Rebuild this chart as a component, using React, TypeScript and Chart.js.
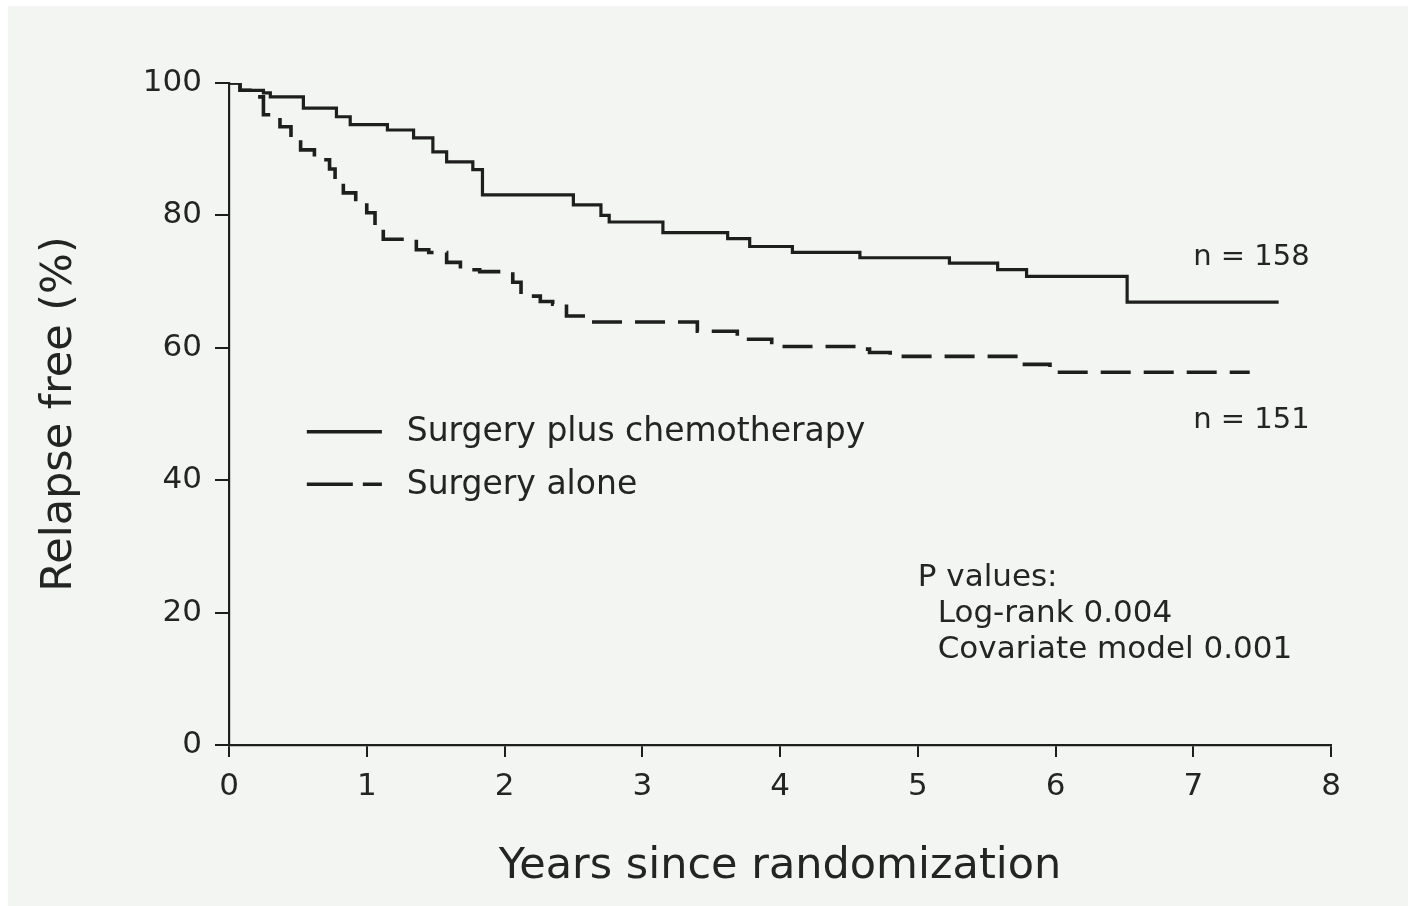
import { useEffect, useRef } from "react";
import { Chart, registerables } from "chart.js";

Chart.register(...registerables);

// ---- Data ----
const seriesLabels = ["Surgery plus chemotherapy", "Surgery alone"];

const chemoYears = [
  0, 0.08, 0.25, 0.3, 0.54, 0.78, 0.88, 1.15, 1.34, 1.48, 1.58, 1.77, 1.84,
  2.5, 2.7, 2.76, 3.15, 3.62, 3.78, 4.09, 4.58, 5.23, 5.58, 5.79, 6.52, 7.62,
];
const chemoRelapseFree = [
  100, 98.9, 98.5, 97.9, 96.2, 94.9, 93.7, 92.9, 91.7, 89.6, 88.1, 86.9, 83.1,
  81.6, 80.0, 79.0, 77.4, 76.5, 75.3, 74.4, 73.6, 72.8, 71.8, 70.8, 66.9, 66.9,
];

const aloneYears = [
  0, 0.08, 0.2, 0.25, 0.37, 0.45, 0.52, 0.62, 0.73, 0.77, 0.83, 0.92, 1.0, 1.06,
  1.12, 1.36, 1.45, 1.58, 1.68, 1.82, 2.06, 2.12, 2.26, 2.35, 2.45, 2.62, 3.4,
  3.69, 3.94, 4.56, 4.65, 4.8, 5.76, 5.96, 7.41,
];
const aloneRelapseFree = [
  100, 98.9, 97.9, 95.2, 93.4, 91.4, 89.9, 88.4, 87.0, 85.4, 83.4, 82.4, 80.4,
  78.3, 76.4, 74.8, 74.4, 72.9, 71.8, 71.5, 69.9, 67.8, 67.0, 66.6, 64.8, 63.9,
  62.5, 61.3, 60.2, 59.8, 59.3, 58.7, 57.5, 56.3, 56.3,
];

const xTickValues = [0, 1, 2, 3, 4, 5, 6, 7, 8];
const yTickValues = [0, 20, 40, 60, 80, 100];
const groupSizeLabels = ["n = 158", "n = 151"];
const pValueLines = ["P values:", "Log-rank 0.004", "Covariate model 0.001"];

const xTitle = "Years since randomization";
const yTitle = "Relapse free (%)";

// ---- Styles ----
const FONT = "'DejaVu Sans', 'Liberation Sans', Arial, sans-serif";
const INK = "#1e1e1e";
const TEXT = "#242424";
const PAPER = "#f2f5f2";

const pairs = (xs: number[], ys: number[]) =>
  xs.map((x, i) => ({ x, y: ys[i] }));

const decorPlugin = {
  id: "decor",
  beforeDraw(chart: any) {
    const { ctx, width, height } = chart;
    ctx.save();
    ctx.fillStyle = "#ffffff";
    ctx.fillRect(0, 0, width, height);
    ctx.fillStyle = PAPER;
    ctx.fillRect(8, 6, width, height);
    ctx.restore();
  },
  afterDraw(chart: any) {
    const { ctx } = chart;
    const xs = chart.scales.x;
    const ys = chart.scales.y;
    ctx.save();
    ctx.fillStyle = TEXT;
    ctx.strokeStyle = INK;

    // Legend (drawn inside the plot area)
    const legX0 = xs.getPixelForValue(0.565);
    const legX1 = xs.getPixelForValue(1.11);
    const textX = xs.getPixelForValue(1.29);
    const rows = [ys.getPixelForValue(47.3), ys.getPixelForValue(39.4)];
    chart.data.datasets.forEach((ds: any, i: number) => {
      const y = rows[i];
      ctx.lineWidth = 3.5;
      ctx.setLineDash(i === 0 ? [] : [46, 10]);
      ctx.beginPath();
      ctx.moveTo(legX0, y);
      ctx.lineTo(legX1, y);
      ctx.stroke();
      ctx.setLineDash([]);
      ctx.font = `33px ${FONT}`;
      ctx.textAlign = "left";
      ctx.textBaseline = "middle";
      ctx.fillText(ds.label, textX, y + 1);
    });

    // Group sizes
    ctx.font = `29px ${FONT}`;
    ctx.textBaseline = "middle";
    const nx = xs.getPixelForValue(7.0);
    ctx.fillText(groupSizeLabels[0], nx, ys.getPixelForValue(73.6));
    ctx.fillText(groupSizeLabels[1], nx, ys.getPixelForValue(49.0));

    // P values
    ctx.font = `31px ${FONT}`;
    ctx.textBaseline = "alphabetic";
    const px0 = xs.getPixelForValue(5.0);
    const px1 = xs.getPixelForValue(5.145);
    const baseVals = [24.0, 18.6, 13.2];
    pValueLines.forEach((line, i) => {
      ctx.fillText(line, i === 0 ? px0 : px1, ys.getPixelForValue(baseVals[i]));
    });
    ctx.restore();
  },
};

export default function App() {
  const canvasRef = useRef<HTMLCanvasElement | null>(null);

  useEffect(() => {
    document.documentElement.style.background = PAPER;
    document.body.style.background = PAPER;
    document.body.style.margin = "0";
    document.body.style.overflow = "hidden";
    const canvas = canvasRef.current;
    if (!canvas) return;

    const chart = new Chart(canvas, {
      type: "line",
      data: {
        datasets: [
          {
            label: seriesLabels[0],
            data: pairs(chemoYears, chemoRelapseFree),
            borderColor: INK,
            borderWidth: 3.2,
            stepped: true,
            pointRadius: 0,
            fill: false,
          },
          {
            label: seriesLabels[1],
            data: pairs(aloneYears, aloneRelapseFree),
            borderColor: INK,
            borderWidth: 3.6,
            borderDash: [30, 13],
            stepped: true,
            pointRadius: 0,
            fill: false,
          },
        ],
      },
      options: {
        animation: false,
        responsive: false,
        events: [],
        layout: { padding: { left: 0, right: 77, top: 83, bottom: 0 } },
        plugins: {
          legend: { display: false },
          tooltip: { enabled: false },
        },
        scales: {
          x: {
            type: "linear",
            min: 0,
            max: 8,
            afterFit: (s: any) => {
              s.height = 161;
            },
            afterBuildTicks: (s: any) => {
              s.ticks = xTickValues.map((v) => ({ value: v }));
            },
            ticks: {
              color: TEXT,
              font: { family: FONT, size: 31 },
              padding: 11,
              maxRotation: 0,
              autoSkip: false,
            },
            grid: {
              drawOnChartArea: false,
              drawTicks: true,
              tickLength: 12,
              color: INK,
              lineWidth: 2,
            },
            border: { display: true, color: INK, width: 2.2 },
            title: {
              display: true,
              text: xTitle,
              color: TEXT,
              font: { family: FONT, size: 43, lineHeight: 1 },
              padding: { top: 0, bottom: 18 },
            },
          },
          y: {
            type: "linear",
            min: 0,
            max: 100,
            afterFit: (s: any) => {
              s.width = 229;
            },
            afterBuildTicks: (s: any) => {
              s.ticks = yTickValues.map((v) => ({ value: v }));
            },
            ticks: {
              color: TEXT,
              font: { family: FONT, size: 31 },
              padding: 13,
              autoSkip: false,
            },
            grid: {
              drawOnChartArea: false,
              drawTicks: true,
              tickLength: 14,
              color: INK,
              lineWidth: 2,
            },
            border: { display: true, color: INK, width: 2.2 },
            title: {
              display: true,
              text: yTitle,
              color: TEXT,
              font: { family: FONT, size: 43, lineHeight: 1 },
              padding: { top: 38, bottom: 0 },
            },
          },
        },
      },
      plugins: [decorPlugin],
    });

    return () => chart.destroy();
  }, []);

  return (
    <canvas
      ref={canvasRef}
      width={1408}
      height={906}
      style={{ display: "block", width: 1408, height: 906 }}
    />
  );
}
